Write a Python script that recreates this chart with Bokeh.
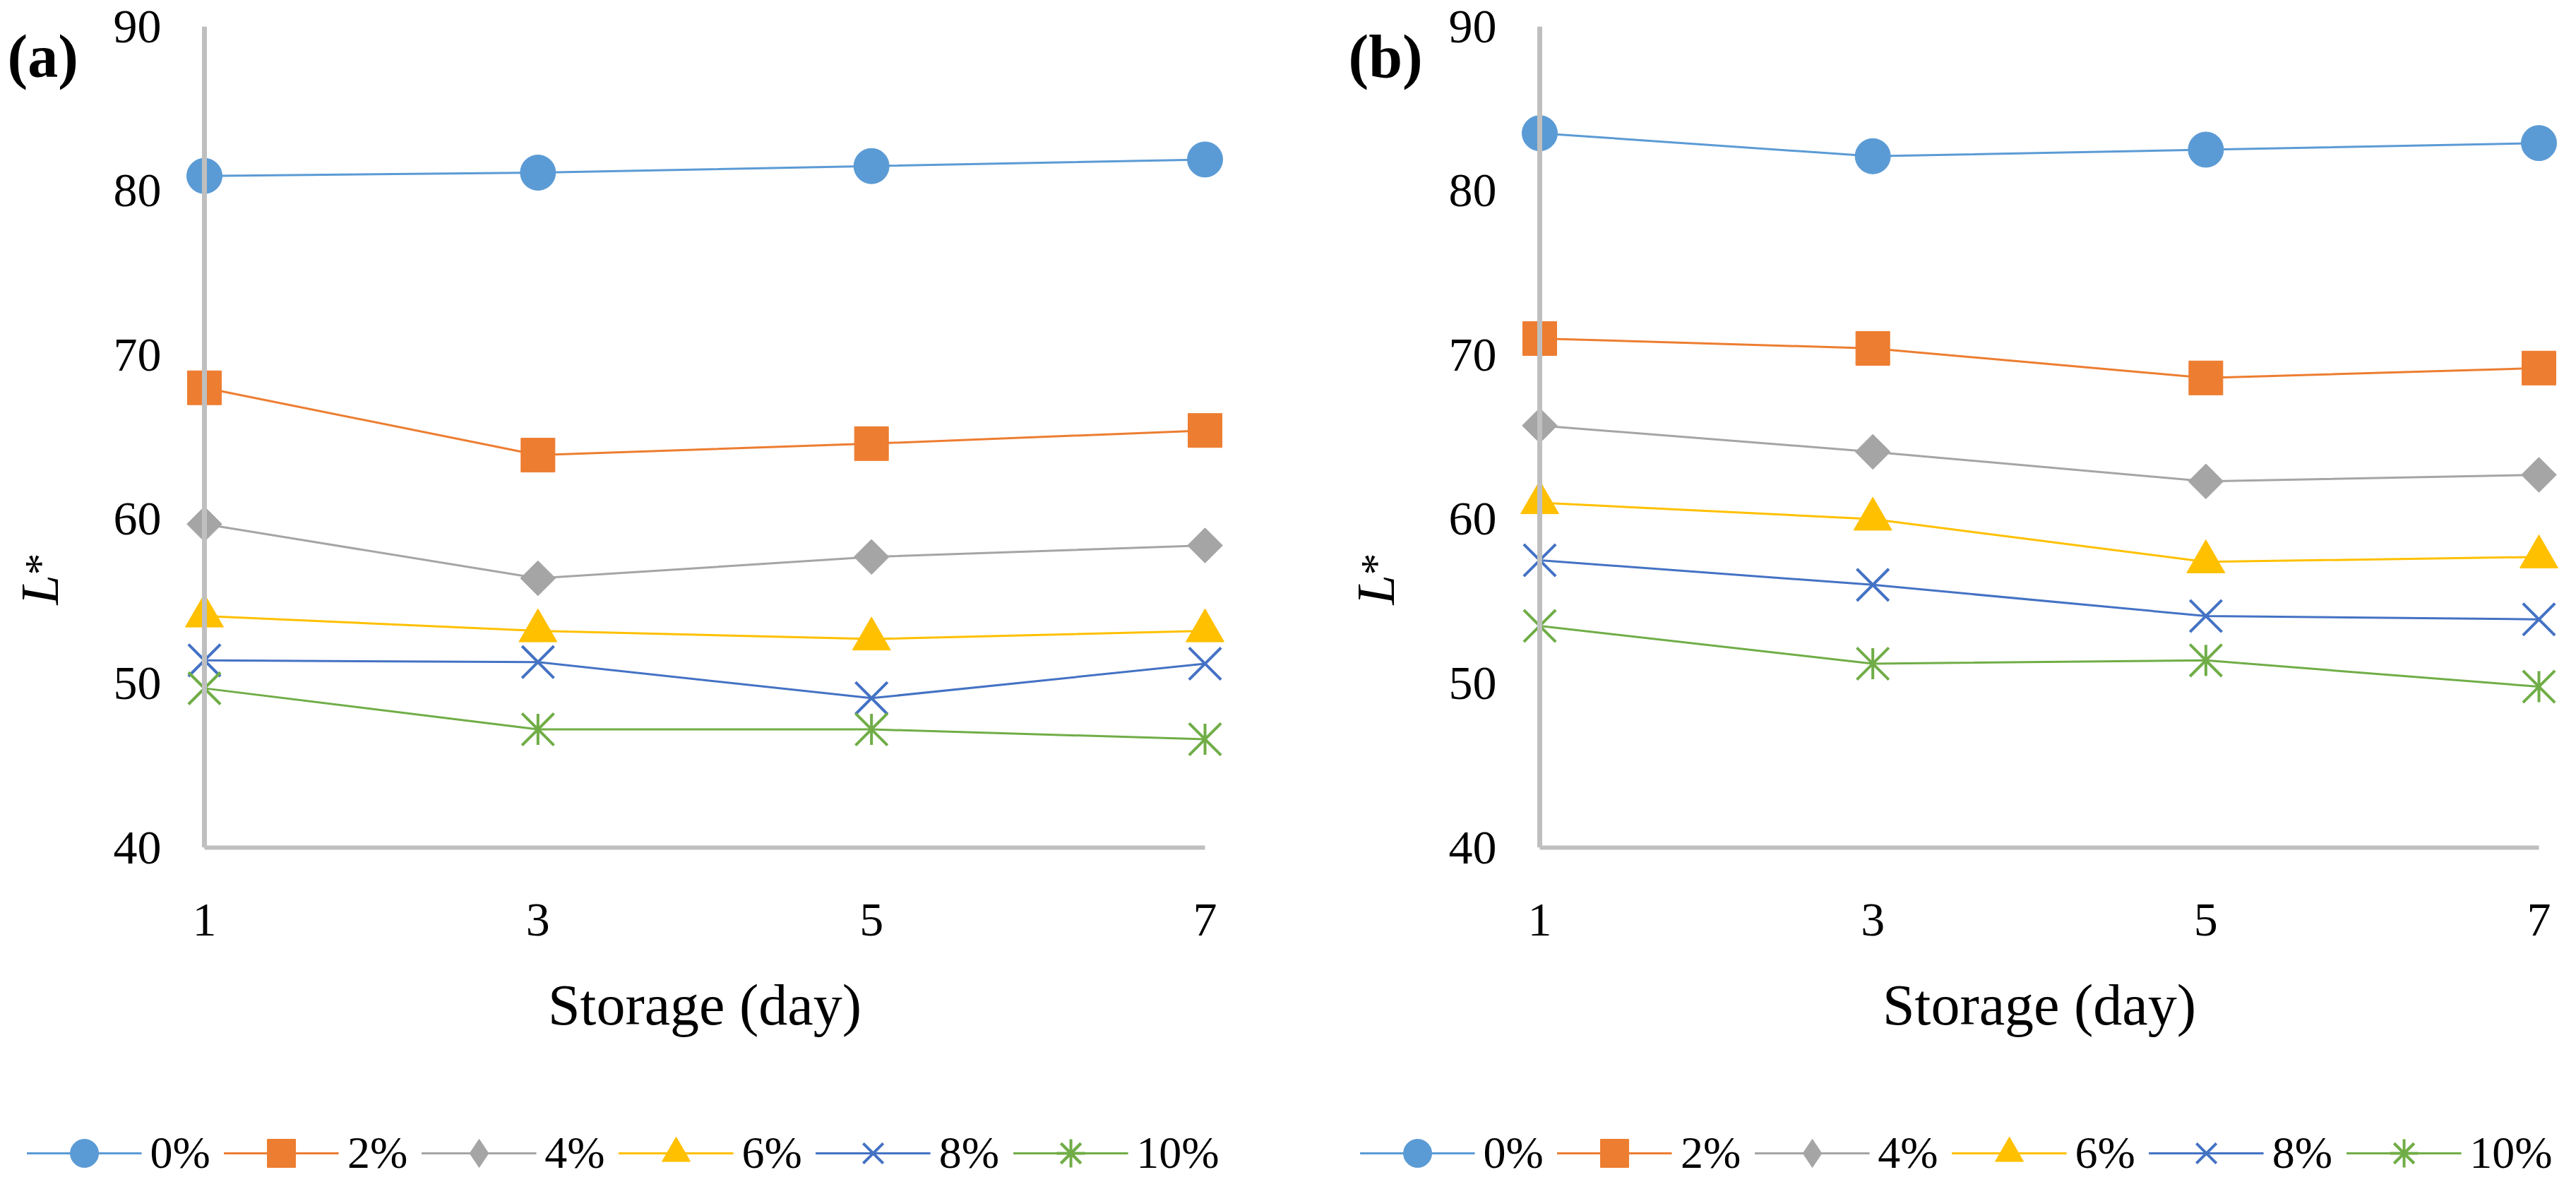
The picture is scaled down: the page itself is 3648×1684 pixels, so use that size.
import numpy as np
from bokeh.plotting import figure
from bokeh.models import (Range1d, FixedTicker, Legend, LegendItem, Label, Span,
                          ColumnDataSource)
from bokeh.layouts import row, column
from bokeh.embed import file_html
from bokeh.resources import INLINE

# ---------------- data ----------------
days = [1, 3, 5, 7]
x_ticks = [1, 3, 5, 7]
y_ticks = [40, 50, 60, 70, 80, 90]
series_names = ["0%", "2%", "4%", "6%", "8%", "10%"]

# panel (a)
a_0 = [80.9, 81.1, 81.5, 81.9]
a_2 = [68.0, 63.9, 64.6, 65.4]
a_4 = [59.7, 56.4, 57.7, 58.4]
a_6 = [54.1, 53.2, 52.7, 53.2]
a_8 = [51.4, 51.3, 49.1, 51.2]
a_10 = [49.7, 47.2, 47.2, 46.6]

# panel (b)
b_0 = [83.5, 82.1, 82.5, 82.9]
b_2 = [71.0, 70.4, 68.6, 69.2]
b_4 = [65.7, 64.1, 62.3, 62.7]
b_6 = [61.0, 60.0, 57.4, 57.7]
b_8 = [57.5, 56.0, 54.1, 53.9]
b_10 = [53.5, 51.2, 51.4, 49.8]

colors = ["#5B9BD5", "#ED7D31", "#A5A5A5", "#FFC000", "#4472C4", "#70AD47"]

FONT = "Liberation Serif"
W = 1816
CH = 1586          # chart figure height
TOP, BOTTOM = 37, 1200
PAD = 35
AXIS_GREY = "#BFBFBF"


def bare(p):
    p.title.visible = False
    p.outline_line_color = None
    p.grid.visible = False
    p.background_fill_color = "white"
    p.border_fill_color = "white"


def add_series(p, i, src, legend_proxy=False):
    c = colors[i]
    rs = [p.line("x", "y", source=src, line_color=c, line_width=3)]
    if i == 0:
        rs.append(p.scatter("x", "y", source=src, marker="circle", size=50,
                            fill_color=c, line_color=c))
    elif i == 1:
        rs.append(p.scatter("x", "y", source=src, marker="square", size=48,
                            fill_color=c, line_color=c))
    elif i == 2:
        if legend_proxy:
            rs.append(p.scatter("x", "y", source=src, marker="diamond", size=40,
                                fill_color=c, line_color=c))
        else:
            rs.append(p.scatter("x", "y", source=src, marker="square", size=35,
                                angle=np.pi / 4, fill_color=c, line_color=c))
    elif i == 3:
        rs.append(p.scatter("x", "y", source=src, marker="triangle", size=54,
                            fill_color=c, line_color=c))
    elif i == 4:
        rs.append(p.scatter("x", "y", source=src, marker="x", size=64,
                            line_color=c, line_width=4))
    else:
        rs.append(p.scatter("x", "y", source=src, marker="x", size=64,
                            line_color=c, line_width=4))
        if legend_proxy:
            rs.append(p.scatter("x", "y", source=src, marker="asterisk", size=44,
                                line_color=c, line_width=4))
        else:
            rs.append(p.scatter("x", "y", source=src, marker="dash", size=44,
                                angle=np.pi / 2, line_color=c, line_width=4))
    return rs


def make_panel(tag, values, axis_px, x7_px, side_w, tag_x, lstar_x, legend_cx):
    # ---- side strip holding the panel tag and the y-axis title ----
    side = figure(frame_width=side_w, frame_height=CH,
                  x_range=Range1d(0, side_w), y_range=Range1d(0, CH),
                  min_border=0, min_border_left=0, min_border_right=0,
                  min_border_top=0, min_border_bottom=0,
                  x_axis_location=None, y_axis_location=None,
                  output_backend="svg", toolbar_location=None)
    bare(side)
    side.add_layout(Label(x=tag_x, y=CH - 42, x_units="screen", y_units="screen",
                          text=tag, text_font=FONT, text_font_size="86px",
                          text_font_style="bold", text_align="left",
                          text_baseline="middle", text_color="black"))
    side.add_layout(Label(x=lstar_x, y=CH - 819, x_units="screen", y_units="screen",
                          text="L", text_font=FONT, text_font_size="76px",
                          text_font_style="italic", text_align="left",
                          text_baseline="middle", angle=np.pi / 2,
                          text_color="black"))
    side.add_layout(Label(x=lstar_x, y=CH - 777, x_units="screen", y_units="screen",
                          text="*", text_font=FONT, text_font_size="62px",
                          text_align="left", text_baseline="middle",
                          angle=np.pi / 2, text_color="black"))

    # ---- chart ----
    L = axis_px - PAD - side_w
    R = x7_px + PAD - side_w
    CW = W - side_w
    ppd = (x7_px - axis_px) / 6.0
    x0 = 1 - PAD / ppd
    x1 = 7 + PAD / ppd
    p = figure(frame_width=R - L, frame_height=BOTTOM - TOP,
               x_range=Range1d(x0, x1), y_range=Range1d(40, 90),
               min_border_left=L, min_border_right=CW - R,
               min_border_top=TOP, min_border_bottom=CH - BOTTOM,
               output_backend="svg", toolbar_location=None)
    bare(p)
    for ax in (p.xaxis, p.yaxis):
        ax.major_tick_line_color = None
        ax.minor_tick_line_color = None
        ax.major_label_text_font = FONT
        ax.major_label_text_font_size = "68px"
        ax.major_label_text_color = "black"
    p.xaxis.axis_line_color = AXIS_GREY
    p.xaxis.axis_line_width = 6
    p.xaxis.ticker = FixedTicker(ticks=x_ticks)
    p.xaxis.bounds = (1, 7)
    p.xaxis.major_label_standoff = 74
    p.xaxis.axis_label = "Storage (day)"
    p.xaxis.axis_label_text_font = FONT
    p.xaxis.axis_label_text_font_size = "82px"
    p.xaxis.axis_label_text_font_style = "normal"
    p.xaxis.axis_label_text_color = "black"
    p.xaxis.axis_label_standoff = 50
    p.yaxis.ticker = FixedTicker(ticks=y_ticks)
    p.yaxis.axis_line_color = None
    p.yaxis.major_label_standoff = 20

    p.add_layout(Span(location=1, dimension="height", line_color=AXIS_GREY,
                      line_width=7))

    for i, vals in enumerate(values):
        src = ColumnDataSource(dict(x=days, y=vals))
        add_series(p, i, src)

    # ---- legend strip (proxy glyphs lie outside its ranges) ----
    lf_w = 1700
    lf_left = int(round(legend_cx - lf_w / 2))
    lf = figure(frame_width=lf_w, frame_height=71,
                x_range=Range1d(100, 101), y_range=Range1d(100, 101),
                min_border_left=lf_left, min_border_right=W - lf_w - lf_left,
                min_border_top=11, min_border_bottom=0,
                x_axis_location=None, y_axis_location=None,
                output_backend="svg", toolbar_location=None)
    bare(lf)
    items = []
    for i, (name, vals) in enumerate(zip(series_names, values)):
        src = ColumnDataSource(dict(x=days, y=vals))
        rs = add_series(lf, i, src, legend_proxy=True)
        items.append(LegendItem(label=name, renderers=rs))
    legend = Legend(items=items, orientation="horizontal", location="center",
                    glyph_width=163, glyph_height=100, label_standoff=12,
                    spacing=19, padding=0, margin=0,
                    border_line_color=None, background_fill_alpha=0,
                    label_text_font=FONT, label_text_font_size="64px",
                    label_text_color="black")
    lf.add_layout(legend, "center")
    return column(row(side, p, spacing=0), lf, spacing=0)


pa = make_panel("(a)", [a_0, a_2, a_4, a_6, a_8, a_10],
                axis_px=289, x7_px=1706, side_w=140, tag_x=10, lstar_x=55,
                legend_cx=882)
pb = make_panel("(b)", [b_0, b_2, b_4, b_6, b_8, b_10],
                axis_px=364, x7_px=1779, side_w=215, tag_x=93, lstar_x=131,
                legend_cx=954)

layout = row(pa, pb, spacing=0)
open("out.html", "w").write(file_html(layout, INLINE))
